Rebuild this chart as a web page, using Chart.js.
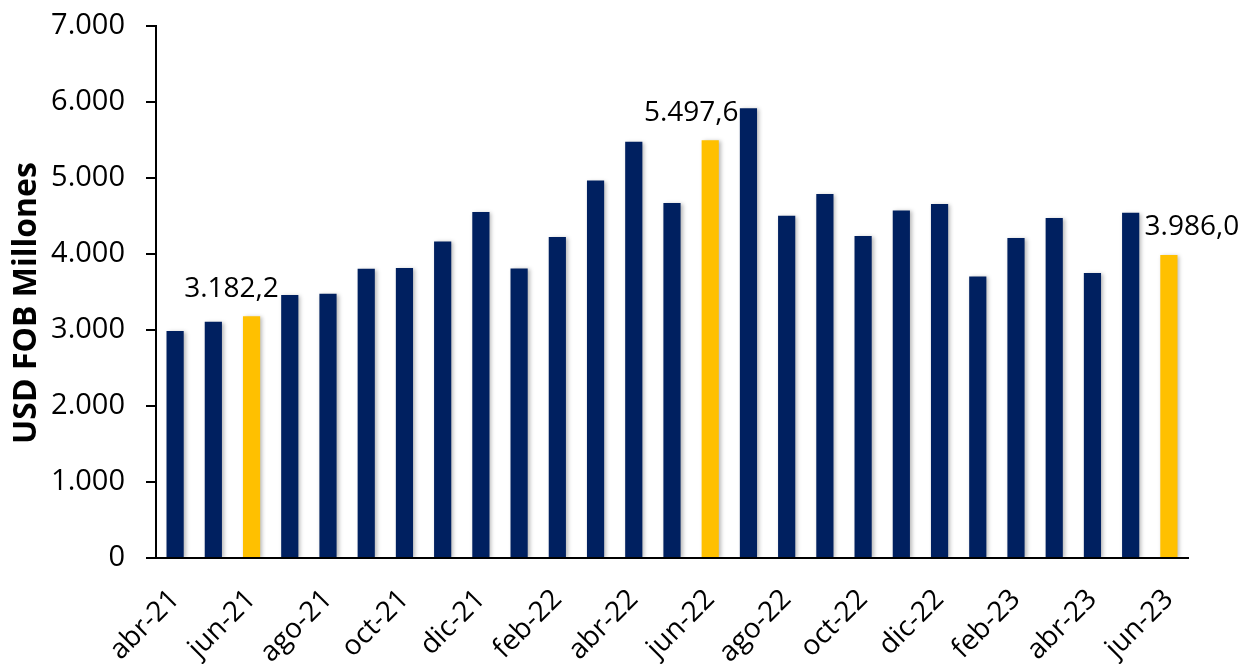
<!DOCTYPE html>
<html>
<head>
<meta charset="utf-8">
<script src="https://cdn.jsdelivr.net/npm/chart.js@4"></script>
<style>
    html, body { margin: 0; padding: 0; background: #fff; }
    #wrap { width: 1239px; height: 664px; }
</style>
</head>
<body>
<div id="wrap"><canvas id="expChart" width="1239" height="664"></canvas></div>
<script>
// ================= DATA =================
const months = [
    "abr-21", "may-21", "jun-21", "jul-21", "ago-21", "sep-21", "oct-21", "nov-21", "dic-21",
    "ene-22", "feb-22", "mar-22", "abr-22", "may-22", "jun-22", "jul-22", "ago-22", "sep-22",
    "oct-22", "nov-22", "dic-22", "ene-23", "feb-23", "mar-23", "abr-23", "may-23", "jun-23"
];
const exportsUsd = [
    2988, 3107, 3182.2, 3459, 3476, 3806, 3815, 4166, 4553,
    3810, 4224, 4966, 5476, 4672, 5497.6, 5919, 4504, 4790,
    4237, 4574, 4658, 3704, 4210, 4474, 3749, 4544, 3986.0
];
const highlighted = ["jun-21", "jun-22", "jun-23"];
const yTicks = [0, 1000, 2000, 3000, 4000, 5000, 6000, 7000];
const yTitle = "USD FOB Millones";

const NAVY = "#002060";
const GOLD = "#FFC000";

const fmtInt = v => Math.round(v).toString().replace(/\B(?=(\d{3})+(?!\d))/g, ".");
const fmtDec = v => {
    const parts = v.toFixed(1).split(".");
    return parts[0].replace(/\B(?=(\d{3})+(?!\d))/g, ".") + "," + parts[1];
};

// ================= PLUGINS =================
// soft shadow behind the bars
const barShadow = {
    id: "barShadow",
    beforeDatasetsDraw(chart) {
        const ctx = chart.ctx;
        ctx.save();
        ctx.shadowColor = "rgba(0,0,0,0.28)";
        ctx.shadowBlur = 4;
        ctx.shadowOffsetX = 2;
        ctx.shadowOffsetY = 1;
    },
    afterDatasetsDraw(chart) {
        chart.ctx.restore();
    }
};

// value labels for the highlighted months
const labelOffsets = { "jun-21": [-20, -27], "jun-22": [-19, -27], "jun-23": [23, -28] };
const valueLabels = {
    id: "valueLabels",
    afterDatasetsDraw(chart) {
        const ctx = chart.ctx;
        const meta = chart.getDatasetMeta(0);
        ctx.save();
        ctx.font = "28px 'Open Sans'";
        ctx.fillStyle = "#000";
        ctx.textAlign = "center";
        ctx.textBaseline = "middle";
        months.forEach((m, i) => {
            if (!highlighted.includes(m)) return;
            const bar = meta.data[i];
            const off = labelOffsets[m];
            ctx.fillText(fmtDec(exportsUsd[i]), bar.x + off[0], bar.y + off[1]);
        });
        ctx.restore();
    }
};

// y axis title, sitting a bit below the middle of the plot like the original
const axisTitle = {
    id: "axisTitle",
    afterDraw(chart) {
        const ctx = chart.ctx;
        const area = chart.chartArea;
        ctx.save();
        ctx.translate(27, (area.top + area.bottom) / 2 + 11);
        ctx.rotate(-Math.PI / 2);
        ctx.font = "bold 32px 'Open Sans'";
        ctx.fillStyle = "#000";
        ctx.textAlign = "center";
        ctx.textBaseline = "middle";
        ctx.fillText(yTitle, 0, 0);
        ctx.restore();
    }
};

// ================= CHART =================
new Chart(document.getElementById("expChart"), {
    type: "bar",
    data: {
        labels: months,
        datasets: [{
            data: exportsUsd,
            backgroundColor: months.map(m => highlighted.includes(m) ? GOLD : NAVY),
            barPercentage: 0.9,
            categoryPercentage: 0.5
        }]
    },
    options: {
        responsive: false,
        animation: false,
        layout: { padding: { top: 26, right: 51, left: 0, bottom: 0 } },
        plugins: {
            legend: { display: false },
            tooltip: { enabled: false }
        },
        scales: {
            x: {
                grid: { display: false, drawTicks: false },
                border: { display: true, color: "#000", width: 2 },
                ticks: {
                    autoSkip: false,
                    maxRotation: 45,
                    minRotation: 45,
                    padding: 25,
                    color: "#000",
                    font: { family: "'Open Sans'", size: 28 },
                    callback: (v, i) => i % 2 === 0 ? months[i] : ""
                },
                afterFit: s => {
                    s.height = 106;
                    s.paddingLeft = 0;
                    s.paddingRight = 0;
                }
            },
            y: {
                min: 0,
                max: 7000,
                afterBuildTicks: s => { s.ticks = yTicks.map(v => ({ value: v })); },
                grid: {
                    drawOnChartArea: false,
                    drawTicks: true,
                    tickLength: 10,
                    color: "#000",
                    lineWidth: 2
                },
                border: { display: true, color: "#000", width: 2 },
                ticks: {
                    padding: 21,
                    color: "#000",
                    font: { family: "'Open Sans'", size: 29 },
                    callback: v => fmtInt(v)
                },
                afterFit: s => {
                    s.width = 156;
                    s.paddingTop = 0;
                    s.paddingBottom = 0;
                }
            }
        }
    },
    plugins: [barShadow, valueLabels, axisTitle]
});
</script>
</body>
</html>
